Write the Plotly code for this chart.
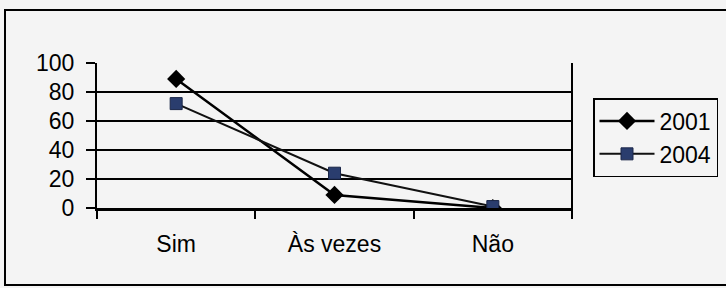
import plotly.graph_objects as go

categories = ["Sim", "Às vezes", "Não"]
series_2001 = [89, 9, 0]
series_2004 = [72, 24, 1]
y_ticks = [0, 20, 40, 60, 80, 100]

W, H = 726, 288
L, R, T, B = 97, 154, 63, 80
pw = W - L - R
ph = H - T - B
bg = "#f4f4f4"
font_family = "Liberation Sans, Arial, sans-serif"

fig = go.Figure()
fig.add_trace(go.Scatter(
    x=categories, y=series_2001, name="2001", mode="lines+markers",
    line=dict(color="black", width=2.5),
    marker=dict(symbol="diamond", size=14, color="black"),
    legendgroup="a",
))
fig.add_trace(go.Scatter(
    x=categories, y=series_2004, name="2004", mode="lines+markers",
    line=dict(color="#111111", width=2),
    marker=dict(symbol="square", size=12, color="#2a3d6e",
                line=dict(color="#1a2648", width=1)),
    legendgroup="b",
))

def px(xp):
    return (xp - L) / pw

def py(yp):
    return (H - B - yp) / ph

shapes = [
    dict(type="rect", xref="paper", yref="paper",
         x0=px(5), x1=px(740), y0=py(10), y1=py(285),
         line=dict(color="black", width=2), fillcolor="rgba(0,0,0,0)", layer="below"),
    dict(type="line", xref="paper", yref="paper",
         x0=1, x1=1, y0=py(216), y1=1,
         line=dict(color="black", width=2)),
]

fig.update_layout(
    width=W, height=H,
    margin=dict(l=L, r=R, t=T, b=B, pad=0, autoexpand=False),
    paper_bgcolor=bg, plot_bgcolor=bg,
    font=dict(family=font_family, size=23, color="black"),
    showlegend=True,
    legend=dict(
        xref="container", yref="container",
        x=593 / W, y=1 - 98 / H, xanchor="left", yanchor="top",
        bgcolor=bg, bordercolor="black", borderwidth=1.5,
        font=dict(size=23, family=font_family, color="black"),
        tracegroupgap=0, itemwidth=55,
    ),
    shapes=shapes,
    xaxis=dict(
        type="category", range=[-0.5, 2.5], automargin=False,
        showgrid=False, showline=True, linecolor="black", linewidth=2.5,
        ticks="outside", tickson="boundaries", ticklen=8, tickwidth=1.5, tickcolor="black",
        tickfont=dict(size=23), ticklabelstandoff=14, zeroline=False,
    ),
    yaxis=dict(
        range=[0, 100], tickvals=y_ticks, automargin=False,
        showgrid=True, gridcolor="black", gridwidth=1.5,
        showline=True, linecolor="black", linewidth=2,
        ticks="outside", ticklen=9, tickwidth=1.5, tickcolor="black",
        tickfont=dict(size=23), ticklabelstandoff=7, zeroline=False,
    ),
)

fig.write_html(
    "out.html",
    config={"displayModeBar": False},
    post_script="document.body.style.margin='0';document.body.style.background='%s';" % bg,
)
